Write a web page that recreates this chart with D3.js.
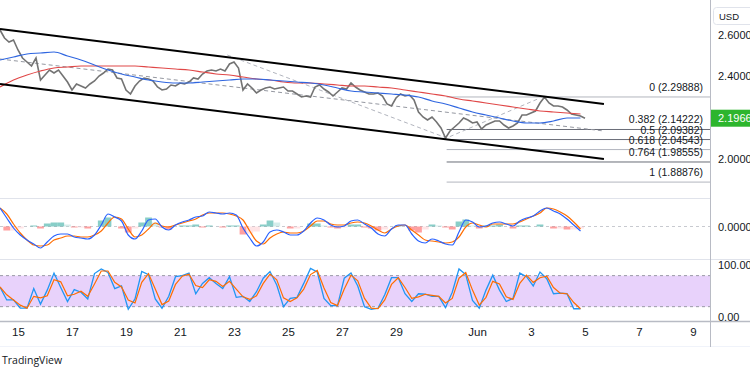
<!DOCTYPE html>
<html>
<head>
<meta charset="utf-8">
<script src="https://cdn.jsdelivr.net/npm/d3@7"></script>
<style>
  body { margin: 0; background: #fff; }
  svg { display: block; font-family: "Liberation Sans", Arial, sans-serif; }
</style>
</head>
<body>
<svg id="chart" width="750" height="375"></svg>
<script>
/* data */
const START = new Date(2024, 4, 14, 8);
const HOUR = 3600 * 1000;

// close, every 4h
const closes = [
  2.6217, 2.5831, 2.5639, 2.5735, 2.5253, 2.4867, 2.4675, 2.4482, 2.4867, 2.3807,
  2.4048, 2.4289, 2.4145, 2.4289, 2.4000, 2.3711, 2.3325, 2.3614, 2.3518, 2.3422,
  2.3614, 2.3759, 2.4000, 2.4145, 2.4337, 2.4289, 2.3904, 2.3855, 2.3325, 2.3133,
  2.3518, 2.3759, 2.3904, 2.3855, 2.3759, 2.3470, 2.3325, 2.3373, 2.3566, 2.3518,
  2.3663, 2.3614, 2.3711, 2.3904, 2.3855, 2.4096, 2.4241, 2.4289, 2.4241, 2.4337,
  2.4241, 2.4578, 2.4675, 2.4386, 2.3325, 2.3614, 2.3422, 2.3181, 2.3325, 2.3422,
  2.3470, 2.3373, 2.3422, 2.3470, 2.3277, 2.3277, 2.3133, 2.2988, 2.3036, 2.2988,
  2.3470, 2.3566, 2.3373, 2.3229, 2.3036, 2.3229, 2.3422, 2.3373, 2.3663, 2.3470,
  2.3325, 2.3229, 2.3133, 2.3133, 2.3181, 2.3036, 2.2651, 2.2554, 2.2940, 2.3133,
  2.3036, 2.3084, 2.2843, 2.2265, 2.2024, 2.1880, 2.2024, 2.1783, 2.1494, 2.1012,
  2.1349, 2.1542, 2.1735, 2.1976, 2.1880, 2.1735, 2.1783, 2.1446, 2.1639, 2.1735,
  2.1831, 2.1831, 2.1639, 2.1494, 2.1590, 2.1735, 2.2120, 2.2120, 2.2217, 2.2313,
  2.2699, 2.2989, 2.2699, 2.2554, 2.2554, 2.2506, 2.2361, 2.2169, 2.2120, 2.2072,
  2.1966
];

// moving averages, every 12h
const maBlue = [
  2.4771, 2.4916, 2.5060, 2.5108, 2.5157, 2.4964, 2.4771, 2.4530, 2.4289, 2.4096,
  2.3952, 2.3807, 2.3711, 2.3663, 2.3663, 2.3711, 2.3759, 2.3807, 2.3855, 2.3855,
  2.3807, 2.3759, 2.3711, 2.3663, 2.3566, 2.3422, 2.3277, 2.3229, 2.3181, 2.3133,
  2.3084, 2.2988, 2.2795, 2.2651, 2.2458, 2.2265, 2.2120, 2.1976, 2.1831, 2.1735,
  2.1735, 2.1831, 2.1976, 2.1976
];
const maRed = [
  2.3470, 2.3807, 2.4048, 2.4241, 2.4386, 2.4434, 2.4482, 2.4482, 2.4482, 2.4482,
  2.4482, 2.4434, 2.4386, 2.4337, 2.4289, 2.4193, 2.4096, 2.4048, 2.3952, 2.3855,
  2.3807, 2.3711, 2.3663, 2.3663, 2.3614, 2.3566, 2.3518, 2.3518, 2.3470, 2.3422,
  2.3325, 2.3229, 2.3133, 2.3036, 2.2892, 2.2795, 2.2699, 2.2602, 2.2506, 2.2410,
  2.2313, 2.2265, 2.2217, 2.2169
];

// MACD, every 6h
const macdLine = [
  0.037, 0.017, -0.003, -0.017, -0.027, -0.035, -0.043, -0.031, -0.019, -0.015,
  -0.015, -0.021, -0.023, -0.025, -0.017, 0.003, 0.025, 0.019, 0.011, -0.017,
  -0.025, -0.009, 0.013, 0.015, -0.001, -0.007, 0.003, 0.009, 0.013, 0.019,
  0.021, 0.029, 0.027, 0.025, 0.027, 0.023, -0.003, -0.023, -0.039, -0.031,
  -0.011, -0.007, -0.011, -0.017, -0.017, -0.009, 0.007, 0.017, 0.013, 0.003,
  -0.001, 0.001, 0.011, 0.013, 0.005, -0.003, -0.015, -0.019, -0.005, 0.003,
  0.003, -0.015, -0.029, -0.033, -0.025, -0.029, -0.035, -0.037, -0.011, 0.013,
  0.009, -0.001, 0.001, 0.007, 0.009, 0.005, 0.001, 0.011, 0.017, 0.021,
  0.031, 0.037, 0.031, 0.025, 0.015, 0.003, -0.009
];
const signalLine = [
  0.037, 0.025, 0.005, -0.013, -0.027, -0.037, -0.039, -0.037, -0.027, -0.023,
  -0.019, -0.019, -0.021, -0.021, -0.017, -0.009, 0.007, 0.019, 0.015, -0.005,
  -0.021, -0.017, -0.005, 0.007, 0.001, -0.001, 0.003, 0.007, 0.011, 0.015,
  0.023, 0.027, 0.027, 0.027, 0.025, 0.021, 0.013, -0.009, -0.029, -0.035,
  -0.023, -0.015, -0.011, -0.013, -0.013, -0.009, 0.001, 0.011, 0.011, 0.005,
  0.003, 0.003, 0.007, 0.009, 0.007, 0.001, -0.007, -0.013, -0.005, 0.001,
  0.003, -0.007, -0.017, -0.027, -0.029, -0.031, -0.033, -0.031, -0.021, -0.001,
  0.007, 0.003, -0.001, 0.005, 0.005, 0.005, 0.005, 0.009, 0.015, 0.021,
  0.027, 0.037, 0.035, 0.029, 0.021, 0.009, -0.005
];

// stochastic, every 6h
const stochK = [
  58, 33, 33, 17, 17, 55, 25, 52, 85, 57,
  30, 53, 48, 35, 84, 93, 86, 55, 60, 15,
  35, 88, 82, 35, 17, 40, 78, 80, 85, 45,
  65, 76, 65, 55, 78, 38, 40, 30, 49, 75,
  88, 62, 20, 36, 38, 65, 94, 87, 36, 22,
  22, 75, 85, 60, 20, 15, 17, 43, 76, 76,
  45, 30, 45, 44, 40, 40, 18, 48, 93, 82,
  32, 17, 52, 81, 52, 30, 36, 85, 78, 60,
  87, 74, 45, 46, 45, 16, 16
];
const stochD = [
  58, 43, 33, 23, 17, 40, 37, 41, 72, 68,
  41, 44, 50, 40, 64, 89, 89, 67, 58, 33,
  27, 67, 84, 54, 24, 31, 63, 79, 83, 61,
  57, 72, 69, 59, 69, 54, 39, 34, 41, 65,
  83, 72, 37, 30, 37, 54, 82, 90, 56, 28,
  22, 54, 81, 70, 36, 17, 16, 33, 63, 76,
  57, 36, 39, 44, 42, 40, 27, 36, 75, 86,
  52, 23, 38, 69, 64, 39, 34, 65, 81, 67,
  76, 79, 57, 46, 45, 28, 16
];

// drawings
const channelUpper = [["2024-05-14T08:00", 2.6265], ["2024-06-05T16:50", 2.2651]];
const channelLower = [["2024-05-14T08:00", 2.3614], ["2024-06-05T16:50", 2.0000]];
const channelMid = [["2024-05-14T08:00", 2.4819], ["2024-06-05T16:50", 2.1349]];
const zigzag = [["2024-05-22T18:00", 2.5012], ["2024-05-30T21:00", 2.1012], ["2024-06-03T08:00", 2.2940]];
const fibStart = "2024-05-30T21:00";
const fibLevels = ["0", "0.382", "0.5", "0.618", "0.764", "1"];
const fibPrices = [2.29888, 2.14222, 2.09382, 2.04543, 1.98555, 1.88876];

const priceTicks = [2.0, 2.2, 2.4, 2.6];
const dateTicks = ["2024-05-15", "2024-05-17", "2024-05-19", "2024-05-21", "2024-05-23",
  "2024-05-25", "2024-05-27", "2024-05-29", "2024-06-01", "2024-06-03", "2024-06-05",
  "2024-06-07", "2024-06-09"];

/* chart */
const svg = d3.select("#chart");
const W = 710;
const parseT = d3.timeParse("%Y-%m-%dT%H:%M");
const parseD = d3.timeParse("%Y-%m-%d");
const at = (step) => (d, i) => new Date(START.getTime() + i * step * HOUR);

const x = d3.scaleTime()
  .domain([START, d3.timeDay.offset(START, 27)])
  .range([0, 729]);

const yP = d3.scaleLinear().domain([2.0, 2.4]).range([159, 76]);
const yM = d3.scaleLinear().domain([-0.065, 0.055]).range([259, 199]);
const yS = d3.scaleLinear().domain([0, 100]).range([317, 265.3]);

const defs = svg.append("defs");
function clip(id, y0, y1) {
  defs.append("clipPath").attr("id", id)
    .append("rect").attr("x", 0).attr("y", y0).attr("width", W).attr("height", y1 - y0);
  return svg.append("g").attr("clip-path", `url(#${id})`);
}

// separators
svg.append("line").attr("x1", 0).attr("x2", W).attr("y1", 198.5).attr("y2", 198.5).attr("stroke", "#e0e3eb");
svg.append("line").attr("x1", 0).attr("x2", 750).attr("y1", 259.5).attr("y2", 259.5).attr("stroke", "#e0e3eb");
svg.append("line").attr("x1", 0).attr("x2", 750).attr("y1", 321.5).attr("y2", 321.5).attr("stroke", "#b8bbc4").attr("stroke-width", 1.5);
svg.append("line").attr("x1", 0).attr("x2", 750).attr("y1", 346.5).attr("y2", 346.5).attr("stroke", "#f0f3fa");
svg.append("line").attr("x1", W + 0.5).attr("x2", W + 0.5).attr("y1", 0).attr("y2", 347).attr("stroke", "#b8bbc4");

/* price pane */
const gP = clip("cp", 0, 198);

const fibX0 = x(parseT(fibStart));
fibPrices.forEach((p, i) => {
  gP.append("line")
    .attr("x1", fibX0).attr("x2", W)
    .attr("y1", yP(p)).attr("y2", yP(p))
    .attr("stroke", [0, 3, 5].includes(i) ? "#b2b5be" : "#6a6d78")
    .attr("stroke-width", 1);
  gP.append("text")
    .attr("x", 703).attr("y", yP(p) - 6)
    .attr("text-anchor", "end")
    .attr("font-size", 10.5).attr("fill", "#131722")
    .text(`${fibLevels[i]} (${p.toFixed(5)})`);
});

const seg = d3.line().x(d => x(parseT(d[0]))).y(d => yP(d[1]));
gP.append("path").attr("d", seg(channelMid)).attr("fill", "none")
  .attr("stroke", "#9598a1").attr("stroke-dasharray", "4,3");
gP.append("path").attr("d", seg(zigzag)).attr("fill", "none")
  .attr("stroke", "#b2b5be").attr("stroke-dasharray", "4,3");

const lineP = (step) => d3.line().x((d, i) => x(at(step)(d, i))).y(d => yP(d));
gP.append("path").attr("d", lineP(4)(closes)).attr("fill", "none")
  .attr("stroke", "#737373").attr("stroke-width", 1.6).attr("stroke-linejoin", "miter");
gP.append("path").attr("d", lineP(12).curve(d3.curveMonotoneX)(maRed)).attr("fill", "none")
  .attr("stroke", "#e04848").attr("stroke-width", 1.2);
gP.append("path").attr("d", lineP(12).curve(d3.curveMonotoneX)(maBlue)).attr("fill", "none")
  .attr("stroke", "#2f66e0").attr("stroke-width", 1.2);

[channelUpper, channelLower].forEach(c => {
  gP.append("path").attr("d", seg(c)).attr("fill", "none")
    .attr("stroke", "#000").attr("stroke-width", 2);
});

/* MACD pane */
const gM = clip("cm", 199, 259);
gM.append("line").attr("x1", 0).attr("x2", W).attr("y1", yM(0)).attr("y2", yM(0))
  .attr("stroke", "#c8cad0").attr("stroke-dasharray", "3,3");

const bw = x(at(6)(0, 1)) - x(START);
macdLine.forEach((m, i) => {
  const h = m - signalLine[i];
  const prev = i > 0 ? macdLine[i - 1] - signalLine[i - 1] : h;
  let col;
  if (h >= 0) col = h >= prev ? "#26a69a" : "#b2dfdb";
  else col = h < prev ? "#ff5252" : "#ffcdd2";
  gM.append("rect")
    .attr("x", x(at(6)(m, i)) - bw / 2)
    .attr("width", bw)
    .attr("y", Math.min(yM(h), yM(0)))
    .attr("height", Math.abs(yM(h) - yM(0)))
    .attr("fill", col).attr("opacity", 0.55);
});
const lineM = d3.line().x((d, i) => x(at(6)(d, i))).y(d => yM(d)).curve(d3.curveMonotoneX);
gM.append("path").attr("d", lineM(signalLine)).attr("fill", "none").attr("stroke", "#ff6d00").attr("stroke-width", 1.2);
gM.append("path").attr("d", lineM(macdLine)).attr("fill", "none").attr("stroke", "#2962ff").attr("stroke-width", 1.2);

/* stochastic pane */
const gS = clip("cs", 260, 321);
gS.append("rect").attr("x", 0).attr("width", W)
  .attr("y", yS(80)).attr("height", yS(20) - yS(80))
  .attr("fill", "#e8d2fb");
[80, 20].forEach(v => {
  gS.append("line").attr("x1", 0).attr("x2", W).attr("y1", yS(v)).attr("y2", yS(v))
    .attr("stroke", "#9a9aa6").attr("stroke-dasharray", "3,3");
});
const lineS = d3.line().x((d, i) => x(at(6)(d, i))).y(d => yS(d));
gS.append("path").attr("d", lineS(stochK)).attr("fill", "none").attr("stroke", "#2196f3").attr("stroke-width", 1.3);
gS.append("path").attr("d", lineS(stochD)).attr("fill", "none").attr("stroke", "#ff6d00").attr("stroke-width", 1.2);

/* axes */
function rightAxis(scale, ticks, fmt) {
  const g = svg.append("g").attr("transform", `translate(${W},0)`)
    .call(d3.axisRight(scale).tickValues(ticks).tickFormat(d3.format(fmt)).tickSize(0).tickPadding(8));
  g.select(".domain").remove();
  g.selectAll("text").attr("font-size", 11).attr("fill", "#131722")
    .attr("font-family", "'Liberation Sans', Arial, sans-serif");
}
rightAxis(yP, priceTicks, ".4f");
rightAxis(yM, [0], ".4f");
rightAxis(yS, [0, 100], ".2f");

const gx = svg.append("g").attr("transform", "translate(0,321)")
  .call(d3.axisBottom(x).tickValues(dateTicks.map(parseD)).tickSize(0).tickPadding(7)
    .tickFormat(d => d.getDate() === 1 ? d3.timeFormat("%b")(d) : d.getDate()));
gx.select(".domain").remove();
gx.selectAll("text").attr("font-size", 11.5).attr("fill", "#131722")
  .attr("font-family", "'Liberation Sans Narrow', 'Liberation Sans', sans-serif");

// last price label
const last = closes[closes.length - 1];
svg.append("rect").attr("x", W + 1).attr("y", yP(last) - 8.5)
  .attr("width", 40).attr("height", 17).attr("fill", "#2db52d");
svg.append("text").attr("x", W + 8).attr("y", yP(last) + 4)
  .attr("font-size", 11).attr("fill", "#fff").text(last.toFixed(4));

// currency tag
svg.append("rect").attr("x", 713.5).attr("y", 7.5).attr("width", 40).attr("height", 17)
  .attr("rx", 3).attr("fill", "#fff").attr("stroke", "#e0e3eb");
svg.append("text").attr("x", 719).attr("y", 19.5).attr("font-size", 9.5)
  .attr("fill", "#131722").text("USD");

svg.append("text").attr("x", 2).attr("y", 364)
  .attr("font-family", "'Open Sans', sans-serif").attr("font-size", 10.5)
  .attr("fill", "#131722").text("TradingView");
</script>
</body>
</html>
